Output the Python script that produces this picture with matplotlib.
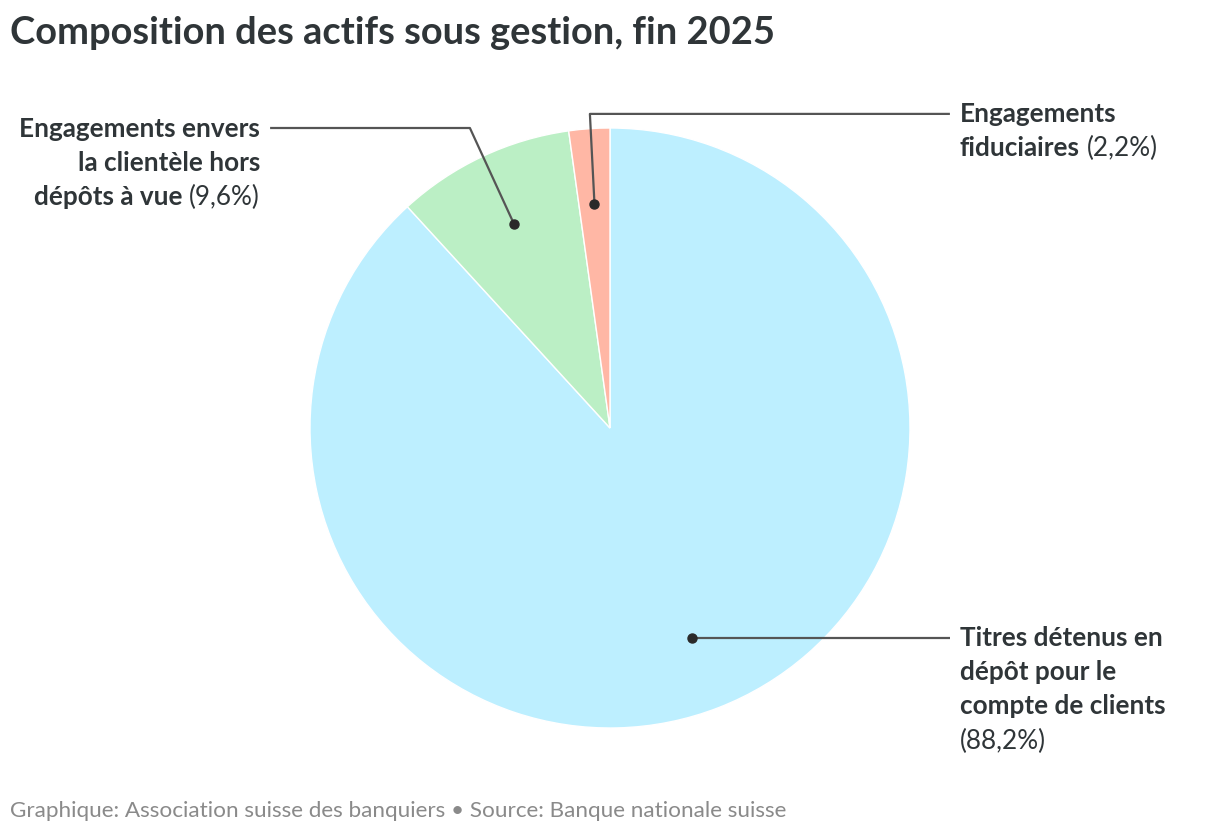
import numpy as np
import matplotlib.pyplot as plt

# Données
categories = ["Titres détenus en dépôt pour le compte de clients",
              "Engagements envers la clientèle hors dépôts à vue",
              "Engagements fiduciaires"]
valeurs = [88.2, 9.6, 2.2]
couleurs = ["#bdefff", "#bbefc5", "#ffb7a5"]

titre = "Composition des actifs sous gestion, fin 2025"
source = "Graphique: Association suisse des banquiers \u2022 Source: Banque nationale suisse"

# lignes des étiquettes: (texte, gras?)
etiquettes = [
    [[("Titres détenus en", True)],
     [("dépôt pour le", True)],
     [("compte de clients", True)],
     [("(88,2%)", False)]],
    [[("Engagements envers", True)],
     [("la clientèle hors", True)],
     [("dépôts à vue", True), ("(9,6%)", False)]],
    [[("Engagements", True)],
     [("fiduciaires", True), ("(2,2%)", False)]],
]

W, H = 1220, 836
plt.rcParams['font.family'] = ['Lato', 'DejaVu Sans']
TXT = "#2f3538"
LIGNE = "#555555"

fig = plt.figure(figsize=(W / 100, H / 100), dpi=100)
ax = fig.add_axes([310 / W, 108 / H, 600 / W, 600 / H])
wedges, _ = ax.pie(valeurs, colors=couleurs, startangle=90, counterclock=False,
                   wedgeprops=dict(edgecolor="white", linewidth=1))
ax.set_xlim(-1, 1)
ax.set_ylim(-1, 1)
ax.set_aspect("equal")

# points et lignes de rappel
coudes = [
    [(1.133, None)],
    [(-0.467, 1.0), (-1.133, 1.0)],
    [(-0.067, 1.047), (1.133, 1.047)],
]
for w, c in zip(wedges, coudes):
    mid = np.deg2rad((w.theta1 + w.theta2) / 2)
    x0, y0 = 0.75 * np.cos(mid), 0.75 * np.sin(mid)
    xs = [x0] + [p[0] for p in c]
    ys = [y0] + [y0 if p[1] is None else p[1] for p in c]
    ax.plot(xs, ys, color=LIGNE, lw=1.6, clip_on=False, solid_capstyle="butt")
    ax.plot([x0], [y0], "o", color="#2a2a2a", ms=6.5, clip_on=False)

# textes des étiquettes (pixels)
positions = [(960, [646, 680, 714, 749], "left"),
             (260, [137, 171, 205], "right"),
             (960, [122, 156], "left")]

fig.text(10 / W, 1 - 44 / H, titre, fontsize=27.4, fontweight="bold", color=TXT,
         va="baseline", ha="left")
fig.text(10 / W, 1 - 817 / H, source, fontsize=16.2, color="#8a8a8a",
         va="baseline", ha="left")

renderer = fig.canvas.get_renderer()
taille = 18.8
espace = 7
for lignes, (x, bases, cote) in zip(etiquettes, positions):
    for parts, yb in zip(lignes, bases):
        if cote == "left":
            xc = x
            for txt, gras in parts:
                t = fig.text(xc / W, 1 - yb / H, txt, fontsize=taille,
                             fontweight="bold" if gras else "normal",
                             color=TXT, ha="left", va="baseline")
                bb = t.get_window_extent(renderer)
                xc = bb.x1 + espace
        else:
            xc = x
            for txt, gras in reversed(parts):
                t = fig.text(xc / W, 1 - yb / H, txt, fontsize=taille,
                             fontweight="bold" if gras else "normal",
                             color=TXT, ha="right", va="baseline")
                bb = t.get_window_extent(renderer)
                xc = bb.x0 - espace

fig.savefig("out.png", dpi=100, facecolor="white")
